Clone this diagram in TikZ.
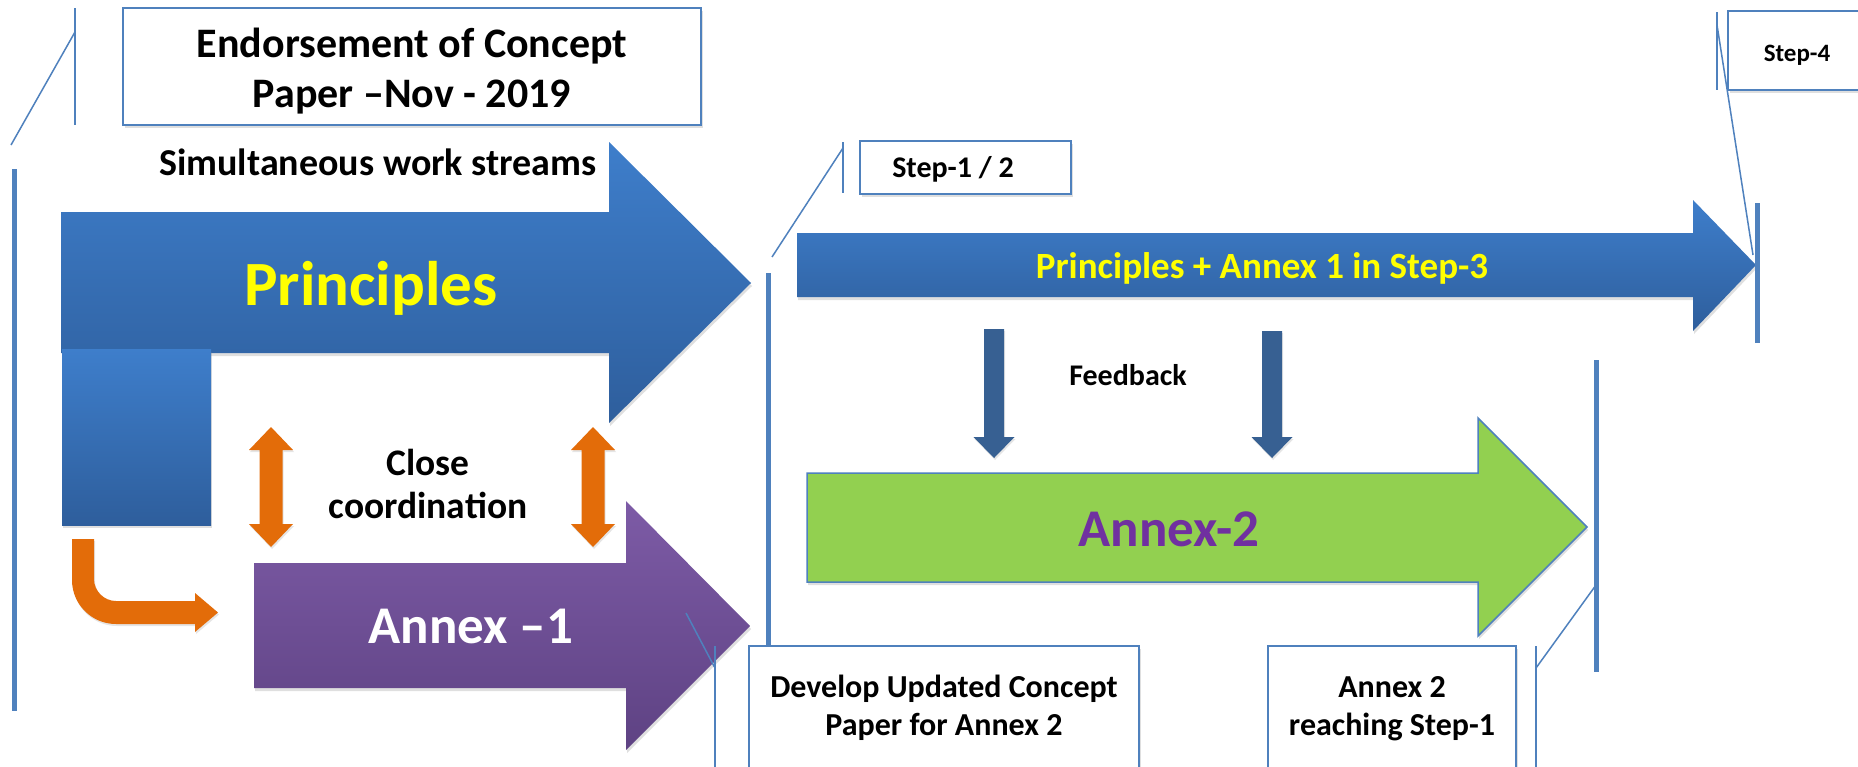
\documentclass[tikz,border=0pt]{standalone}
\usepackage{fontspec}
\setmainfont{Carlito}
\usetikzlibrary{shadows}
\definecolor{lineblue}{HTML}{4F81BD}
\definecolor{blueTop}{HTML}{3E7ECB}
\definecolor{blueBot}{HTML}{2E5E9C}
\definecolor{purpleTop}{HTML}{7D5BA6}
\definecolor{purpleBot}{HTML}{5E4283}
\definecolor{annexgreen}{HTML}{92D050}
\definecolor{orangeA}{HTML}{E36C09}
\definecolor{fbblue}{HTML}{376092}
\definecolor{textpurple}{HTML}{7030A0}
\definecolor{textyellow}{HTML}{FFFF00}
\begin{document}
\begin{tikzpicture}[x=1pt,y=-1pt,
  thinline/.style={draw=lineblue, line width=1.5pt},
  thickline/.style={draw=lineblue, line width=5pt},
  box/.style={draw=lineblue, line width=2pt, fill=white, inner sep=0pt,
    drop shadow={opacity=0.25, shadow xshift=2pt, shadow yshift=-3pt}},
  lbl/.style={font=\bfseries, anchor=base, align=center, inner sep=0pt},
  bluegrad/.style={top color=blueTop, bottom color=blueBot,
    drop shadow={opacity=0.25, shadow xshift=1pt, shadow yshift=-3pt}},
  purplegrad/.style={top color=purpleTop, bottom color=purpleBot,
    drop shadow={opacity=0.25, shadow xshift=1pt, shadow yshift=-3pt}},
  orangearrow/.style={fill=orangeA,
    drop shadow={opacity=0.2, shadow xshift=1pt, shadow yshift=-2pt}},
  fbarrow/.style={fill=fbblue,
    drop shadow={opacity=0.2, shadow xshift=1pt, shadow yshift=-2pt}}]
\useasboundingbox (0,0) rectangle (1858,766);
\fill[white] (0,0) rectangle (1858,766);

% ---------- Principles arrow ----------
\path[bluegrad] (61,212) -- (609,212) -- (609,142) -- (751,283) -- (609,423)
  -- (609,353) -- (61,353) -- cycle;
\path[bluegrad] (62,349) rectangle (211,525);
\node[lbl, font=\bfseries\fontsize{63}{70}\selectfont, text=textyellow] (principles) at (371,305) {Principles};

% ---------- Annex-1 arrow ----------
\path[purplegrad] (254,563) -- (626,563) -- (626,501) -- (750,626) -- (626,750)
  -- (626,688) -- (254,688) -- cycle;
\node[lbl, font=\bfseries\fontsize{53}{60}\selectfont, text=white] (annex1) at (471,643) {Annex –1};

% ---------- orange arrows ----------
\foreach \c/\nm in {271/left,593/right}{
  \path[orangearrow] (\c,427) -- ({\c+22},450) -- ({\c+11.5},450) -- ({\c+11.5},524)
    -- ({\c+22},524) -- (\c,547) -- ({\c-22},524) -- ({\c-11.5},524)
    -- ({\c-11.5},450) -- ({\c-22},450) -- cycle;
}
\path[orangearrow] (72,539) -- (94,539) -- (94,579)
  .. controls (94,591) and (104,601) .. (116,601) -- (195,601) -- (195,593)
  -- (218,612.5) -- (195,632) -- (195,624) -- (116,624)
  .. controls (91.7,624) and (72,604.3) .. (72,580) -- cycle;

\node[lbl, font=\bfseries\fontsize{38}{43}\selectfont] (simul) at (378,175) {Simultaneous work streams};
\node[lbl, font=\bfseries\fontsize{37.5}{43}\selectfont] (close) at (428,518) {Close\\coordination};

% ---------- Step-3 arrow ----------
\path[bluegrad] (797,233) -- (1693,233) -- (1693,200) -- (1756,265) -- (1693,331)
  -- (1693,297) -- (797,297) -- cycle;
\node[lbl, font=\bfseries\fontsize{37}{42}\selectfont, text=textyellow] (step3) at (1262,278) {Principles + Annex 1 in Step-3};

% ---------- Feedback arrows ----------
\foreach \c/\t in {994/329,1272/331}{
  \path[fbarrow] ({\c-10},\t) -- ({\c+10},\t) -- ({\c+10},437) -- ({\c+20.5},437)
    -- (\c,458) -- ({\c-20.5},437) -- ({\c-10},437) -- cycle;
}
\node[lbl, font=\bfseries\fontsize{30}{34}\selectfont] (feedback) at (1128,385) {Feedback};

% ---------- Annex-2 arrow ----------
\path[fill=annexgreen, draw=lineblue, line width=1.5pt,
    drop shadow={opacity=0.25, shadow xshift=1pt, shadow yshift=-3pt}]
  (807,473) -- (1478,473) -- (1478,418) -- (1587,527) -- (1478,636)
  -- (1478,582) -- (807,582) -- cycle;
\node[lbl, font=\bfseries\fontsize{53}{60}\selectfont, text=textpurple] (annex2) at (1169,546) {Annex-2};

% ---------- timeline bars ----------
\coordinate (barA1) at (14,169);   \coordinate (barA2) at (14,711);
\coordinate (barB1) at (768,273);  \coordinate (barB2) at (768,645);
\coordinate (barC1) at (1757,203); \coordinate (barC2) at (1757,343);
\coordinate (barD1) at (1596,360); \coordinate (barD2) at (1596,672);
\draw[thickline] (barA1) -- (barA2);
\draw[thickline] (barB1) -- (barB2);
\draw[thickline] (barC1) -- (barC2);
\draw[thickline] (barD1) -- (barD2);

% ---------- callout boxes ----------
\node[box, minimum width=578pt, minimum height=117pt] (endbox) at (412,66.5) {};
\node[lbl, font=\bfseries\fontsize{42}{50}\selectfont] (endtext) at (412,107) {Endorsement of Concept\\Paper –Nov - 2019};

\node[box, minimum width=211pt, minimum height=53pt] (s12box) at (965.5,167.5) {};
\node[lbl, font=\bfseries\fontsize{30}{34}\selectfont] (s12text) at (953,177) {Step-1 / 2};

\node[box, minimum width=142pt, minimum height=79pt] (s4box) at (1799,50.5) {};
\node[lbl, font=\bfseries\fontsize{25}{30}\selectfont] (s4text) at (1797,61) {Step-4};

\node[box, minimum width=390pt, minimum height=126pt] (devbox) at (944,709) {};
\node[lbl, font=\bfseries\fontsize{32}{38}\selectfont] (devtext) at (944,735) {Develop Updated Concept\\Paper for Annex 2};

\node[box, minimum width=248pt, minimum height=126pt] (a2box) at (1392,709) {};
\node[lbl, font=\bfseries\fontsize{32}{38}\selectfont] (a2text) at (1392,735) {Annex 2\\reaching Step-1};

% ---------- callout leader lines ----------
\coordinate (c1a) at (75,8);    \coordinate (c1b) at (75,125);
\coordinate (c1k) at (75,32);   \coordinate (c1t) at (11,145);
\coordinate (c2a) at (843,142); \coordinate (c2b) at (843,193);
\coordinate (c2k) at (843,148); \coordinate (c2t) at (772,257);
\coordinate (c3a) at (1717,12); \coordinate (c3b) at (1717,90);
\coordinate (c3k) at (1717,25); \coordinate (c3t) at (1753,255);
\coordinate (c4a) at (715,646); \coordinate (c4b) at (715,770);
\coordinate (c4k) at (715,668); \coordinate (c4t) at (686,613);
\coordinate (c5a) at (1536,646); \coordinate (c5b) at (1536,770);
\coordinate (c5k) at (1536,668); \coordinate (c5t) at (1596,585);
\foreach \i in {1,...,5}{
  \draw[thinline] (c\i a) -- (c\i b);
  \draw[thinline] (c\i k) -- (c\i t);
}
\end{tikzpicture}
\end{document}
